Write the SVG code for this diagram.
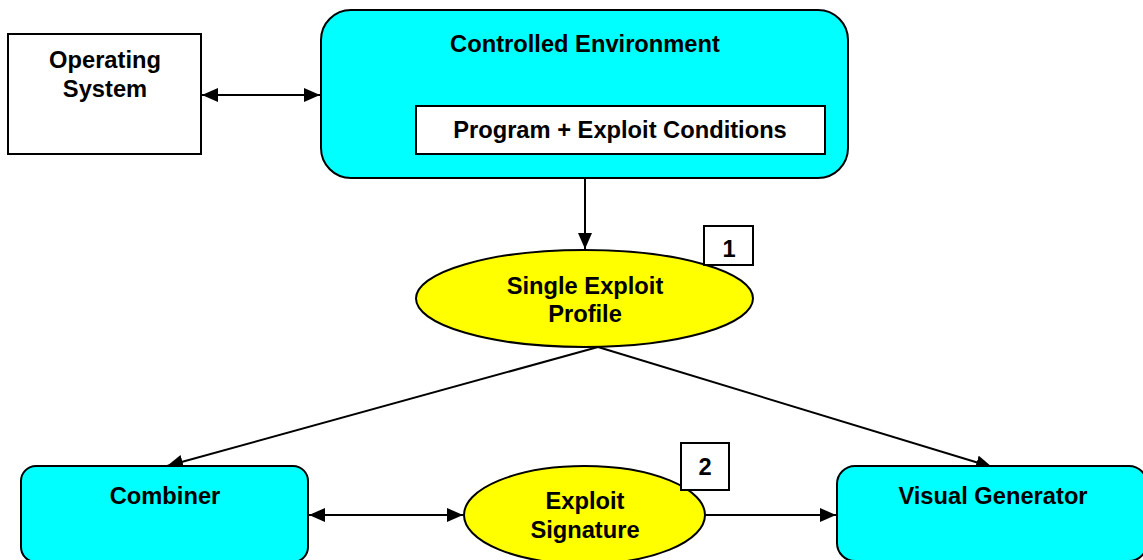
<svg xmlns="http://www.w3.org/2000/svg" width="1143" height="560" viewBox="0 0 1143 560">
  <defs>
    <marker id="arrow" viewBox="0 0 16 14" refX="16" refY="7" markerWidth="16" markerHeight="14" markerUnits="userSpaceOnUse" orient="auto-start-reverse">
      <path d="M0,0 L16,7 L0,14 Z" fill="#000"/>
    </marker>
    <style>
      .lbl { font-family: "Liberation Sans", Arial, sans-serif; font-weight: bold; font-size: 23.7px; fill: #000; text-anchor: middle; }
      .box { fill: #fff; stroke: #000; stroke-width: 2; }
      .proc { fill: #00ffff; stroke: #000; stroke-width: 2; }
      .data { fill: #ffff00; stroke: #000; stroke-width: 2; }
      .conn { fill: none; stroke: #000; stroke-width: 2; }
    </style>
  </defs>
  <rect width="1143" height="560" fill="#fff"/>

  <!-- connectors -->
  <g id="connectors">
    <line class="conn" x1="202" y1="95" x2="320" y2="95" marker-start="url(#arrow)" marker-end="url(#arrow)"/>
    <line class="conn" x1="322" y1="95" x2="415" y2="130" marker-start="url(#arrow)" marker-end="url(#arrow)"/>
    <line class="conn" x1="585" y1="179" x2="585" y2="249" marker-end="url(#arrow)"/>
    <line class="conn" x1="598" y1="347" x2="167" y2="466" marker-end="url(#arrow)"/>
    <line class="conn" x1="598" y1="347" x2="992" y2="467" marker-end="url(#arrow)"/>
    <line class="conn" x1="309" y1="515" x2="463" y2="515" marker-start="url(#arrow)" marker-end="url(#arrow)"/>
    <line class="conn" x1="705" y1="515" x2="836" y2="515" marker-end="url(#arrow)"/>
  </g>

  <g id="operating-system">
    <rect class="box" x="8" y="34" width="193" height="120"/>
    <text class="lbl" x="105" y="68">Operating</text>
    <text class="lbl" x="105" y="97">System</text>
  </g>

  <g id="controlled-environment">
    <rect class="proc" x="321" y="10" width="527" height="168" rx="30" ry="30"/>
    <text class="lbl" x="585" y="52">Controlled Environment</text>
  </g>

  <g id="program-conditions">
    <rect class="box" x="416" y="106" width="409" height="48"/>
    <text class="lbl" x="620" y="138">Program + Exploit Conditions</text>
  </g>

  <g id="single-exploit-profile">
    <ellipse class="data" cx="584.5" cy="298.5" rx="168.5" ry="48.5"/>
    <text class="lbl" x="585" y="294">Single Exploit</text>
    <text class="lbl" x="585" y="322">Profile</text>
  </g>

  <g id="badge-1">
    <rect class="box" x="704" y="226" width="49" height="39"/>
    <text class="lbl" x="729" y="257">1</text>
  </g>

  <g id="combiner">
    <rect class="proc" x="21" y="466" width="287" height="96" rx="15" ry="15"/>
    <text class="lbl" x="165" y="504">Combiner</text>
  </g>

  <g id="exploit-signature">
    <ellipse class="data" cx="584.5" cy="515" rx="120.5" ry="49"/>
    <text class="lbl" x="585" y="509">Exploit</text>
    <text class="lbl" x="585" y="538">Signature</text>
  </g>

  <g id="badge-2">
    <rect class="box" x="681" y="443" width="48" height="47"/>
    <text class="lbl" x="705" y="475">2</text>
  </g>

  <g id="visual-generator">
    <rect class="proc" x="837" y="466" width="310" height="95" rx="18" ry="18"/>
    <text class="lbl" x="993" y="504">Visual Generator</text>
  </g>
</svg>
